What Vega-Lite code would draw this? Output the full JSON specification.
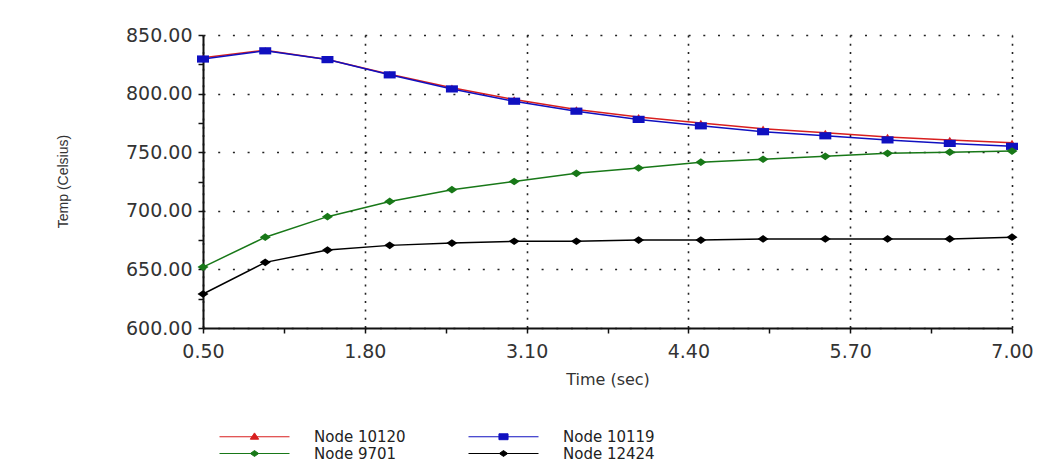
{
  "$schema": "https://vega.github.io/schema/vega-lite/v6.json",
  "width": 809,
  "height": 293,
  "autosize": "none",
  "padding": {"left": 203, "top": 35, "right": 48, "bottom": 140},
  "background": "white",
  "config": {"view": {"stroke": null}, "font": "DejaVu Sans"},
  "datasets": {
    "temps": [
      {"t": 0.5, "node": "Node 10120", "temp": 830.5},
      {"t": 1.0, "node": "Node 10120", "temp": 837},
      {"t": 1.5, "node": "Node 10120", "temp": 829},
      {"t": 2.0, "node": "Node 10120", "temp": 816.5},
      {"t": 2.5, "node": "Node 10120", "temp": 805},
      {"t": 3.0, "node": "Node 10120", "temp": 795},
      {"t": 3.5, "node": "Node 10120", "temp": 786.5},
      {"t": 4.0, "node": "Node 10120", "temp": 780},
      {"t": 4.5, "node": "Node 10120", "temp": 775},
      {"t": 5.0, "node": "Node 10120", "temp": 770},
      {"t": 5.5, "node": "Node 10120", "temp": 766.5},
      {"t": 6.0, "node": "Node 10120", "temp": 763},
      {"t": 6.5, "node": "Node 10120", "temp": 760.5},
      {"t": 7.0, "node": "Node 10120", "temp": 758},
      {"t": 0.5, "node": "Node 10119", "temp": 829.5},
      {"t": 1.0, "node": "Node 10119", "temp": 836.5},
      {"t": 1.5, "node": "Node 10119", "temp": 829},
      {"t": 2.0, "node": "Node 10119", "temp": 816},
      {"t": 2.5, "node": "Node 10119", "temp": 804},
      {"t": 3.0, "node": "Node 10119", "temp": 793.5},
      {"t": 3.5, "node": "Node 10119", "temp": 785},
      {"t": 4.0, "node": "Node 10119", "temp": 778},
      {"t": 4.5, "node": "Node 10119", "temp": 772.5},
      {"t": 5.0, "node": "Node 10119", "temp": 767.5},
      {"t": 5.5, "node": "Node 10119", "temp": 764},
      {"t": 6.0, "node": "Node 10119", "temp": 760.5},
      {"t": 6.5, "node": "Node 10119", "temp": 757.5},
      {"t": 7.0, "node": "Node 10119", "temp": 755},
      {"t": 0.5, "node": "Node 9701", "temp": 652},
      {"t": 1.0, "node": "Node 9701", "temp": 677.5},
      {"t": 1.5, "node": "Node 9701", "temp": 695},
      {"t": 2.0, "node": "Node 9701", "temp": 708},
      {"t": 2.5, "node": "Node 9701", "temp": 718},
      {"t": 3.0, "node": "Node 9701", "temp": 725},
      {"t": 3.5, "node": "Node 9701", "temp": 732},
      {"t": 4.0, "node": "Node 9701", "temp": 736.5},
      {"t": 4.5, "node": "Node 9701", "temp": 741.5},
      {"t": 5.0, "node": "Node 9701", "temp": 744},
      {"t": 5.5, "node": "Node 9701", "temp": 746.5},
      {"t": 6.0, "node": "Node 9701", "temp": 749},
      {"t": 6.5, "node": "Node 9701", "temp": 750},
      {"t": 7.0, "node": "Node 9701", "temp": 751},
      {"t": 0.5, "node": "Node 12424", "temp": 629},
      {"t": 1.0, "node": "Node 12424", "temp": 656},
      {"t": 1.5, "node": "Node 12424", "temp": 666.5},
      {"t": 2.0, "node": "Node 12424", "temp": 670.5},
      {"t": 2.5, "node": "Node 12424", "temp": 672.5},
      {"t": 3.0, "node": "Node 12424", "temp": 674},
      {"t": 3.5, "node": "Node 12424", "temp": 674},
      {"t": 4.0, "node": "Node 12424", "temp": 675},
      {"t": 4.5, "node": "Node 12424", "temp": 675},
      {"t": 5.0, "node": "Node 12424", "temp": 676},
      {"t": 5.5, "node": "Node 12424", "temp": 676},
      {"t": 6.0, "node": "Node 12424", "temp": 676},
      {"t": 6.5, "node": "Node 12424", "temp": 676},
      {"t": 7.0, "node": "Node 12424", "temp": 677.5}
    ]
  },
  "data": {"name": "temps"},
  "encoding": {
    "x": {
      "field": "t",
      "type": "quantitative",
      "scale": {"domain": [0.5, 7], "nice": false, "zero": false},
      "axis": {
        "title": "Time (sec)",
        "values": [0.5, 1.15, 1.8, 2.45, 3.1, 3.75, 4.4, 5.05, 5.7, 6.35, 7],
        "labelExpr": "(round(datum.value*100) - 50) % 130 === 0 ? format(datum.value, '.2f') : ''",
        "labelFont": "DejaVu Sans",
        "labelFontSize": 19,
        "labelColor": "#333333",
        "labelPadding": 9,
        "labelFlush": false,
        "labelOverlap": false,
        "domainColor": "#111111",
        "domainWidth": 2,
        "tickColor": "#111111",
        "tickWidth": 1.5,
        "tickSize": 5,
        "grid": true,
        "gridColor": "#222222",
        "gridWidth": 1.6,
        "gridDash": [2, 6.3],
        "gridOpacity": {"condition": {"test": "(round(datum.value*100) - 50) % 130 === 0", "value": 1}, "value": 0},
        "titleFont": "DejaVu Sans",
        "titleFontSize": 16,
        "titleFontWeight": "normal",
        "titleColor": "#333333",
        "titleBaseline": "top",
        "titleY": 43
      }
    },
    "y": {
      "field": "temp",
      "type": "quantitative",
      "scale": {"domain": [600, 850], "nice": false, "zero": false},
      "axis": {
        "title": "Temp (Celsius)",
        "values": [600, 625, 650, 675, 700, 725, 750, 775, 800, 825, 850],
        "labelExpr": "datum.value % 50 === 0 ? format(datum.value, '.2f') : ''",
        "labelFont": "DejaVu Sans",
        "labelFontSize": 19,
        "labelColor": "#333333",
        "labelPadding": 6,
        "labelFlush": false,
        "labelOverlap": false,
        "domainColor": "#111111",
        "domainWidth": 2,
        "tickColor": "#111111",
        "tickWidth": 1.5,
        "tickSize": 5,
        "grid": true,
        "gridColor": "#222222",
        "gridWidth": 1.6,
        "gridDash": [2, 12.7],
        "gridOpacity": {"condition": {"test": "datum.value % 50 === 0", "value": 1}, "value": 0},
        "titleFont": "Liberation Sans",
        "titleFontSize": 14,
        "titleFontWeight": "normal",
        "titleColor": "#333333",
        "titleX": -133,
        "titleY": 146
      }
    }
  },
  "layer": [
    {
      "mark": {"type": "line", "strokeWidth": 1.5},
      "encoding": {
        "color": {
          "field": "node",
          "type": "nominal",
          "scale": {
            "domain": ["Node 10120", "Node 10119", "Node 9701", "Node 12424"],
            "range": ["#d81f1f", "#1010c0", "#187818", "#000000"]
          }
        }
      }
    },
    {
      "transform": [{"filter": "datum.node === 'Node 10120'"}],
      "mark": {"type": "point", "filled": true, "opacity": 1, "size": 49, "shape": "M-1,0.7L0,-0.9L1,0.7Z"},
      "encoding": {"color": {"field": "node", "type": "nominal"}}
    },
    {
      "transform": [{"filter": "datum.node === 'Node 10119'"}],
      "mark": {"type": "point", "filled": true, "opacity": 1, "size": 144, "shape": "M-1,-0.6H1V0.6H-1Z"},
      "encoding": {"color": {"field": "node", "type": "nominal"}}
    },
    {
      "transform": [{"filter": "datum.node === 'Node 9701' || datum.node === 'Node 12424'"}],
      "mark": {"type": "point", "filled": true, "opacity": 1, "size": 121, "shape": "M-1,0L0,-0.7L1,0L0,0.7Z"},
      "encoding": {"color": {"field": "node", "type": "nominal"}}
    },
    {
      "mark": {"type": "point", "filled": true, "opacity": 0},
      "encoding": {
        "shape": {
          "field": "node",
          "type": "nominal",
          "scale": {
            "domain": ["Node 10120", "Node 10119", "Node 9701", "Node 12424"],
            "range": [
              "M-5,0H5M-0.6,0.35L0,-0.55L0.6,0.35Z",
              "M-5,0H5M-0.65,-0.42H0.65V0.42H-0.65Z",
              "M-5,0H5M-0.6,0L0,-0.42L0.6,0L0,0.42Z",
              "M-5,0H5M-0.6,0L0,-0.42L0.6,0L0,0.42Z"
            ]
          },
          "legend": {
            "orient": "none",
            "direction": "horizontal",
            "legendX": 44,
            "legendY": 394,
            "columns": 2,
            "title": null,
            "labelFont": "DejaVu Sans",
            "labelFontSize": 15,
            "labelColor": "#222222",
            "labelOffset": 52,
            "columnPadding": 60,
            "rowPadding": 1,
            "symbolSize": 196,
            "symbolStrokeWidth": 1,
            "symbolOpacity": 1,
            "encode": {
              "symbols": {
                "update": {
                  "fill": {"scale": "color", "field": "value"},
                  "stroke": {"scale": "color", "field": "value"},
                  "opacity": {"value": 1}
                }
              }
            }
          }
        }
      }
    }
  ]
}
